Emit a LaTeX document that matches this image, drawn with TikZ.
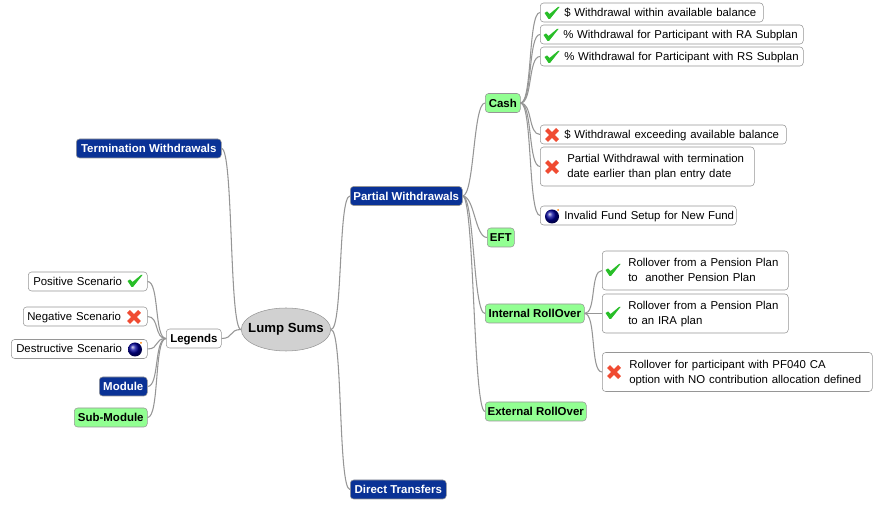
\documentclass[tikz,border=0pt]{standalone}
\usepackage{xcolor}
\usepackage{fontspec}
\setmainfont{Liberation Sans}
\usetikzlibrary{shapes.geometric}
\definecolor{modblue}{RGB}{10,50,150}
\definecolor{subgreen}{RGB}{146,255,146}
\definecolor{rimgray}{RGB}{150,150,150}
\definecolor{okgreen}{RGB}{40,190,40}
\definecolor{nored}{RGB}{240,75,50}
\newcommand{\ind}[1]{\hspace*{\dimexpr#1*3/4\relax}}
\tikzset{
    tag/.style={draw=rimgray, rounded corners=2.5pt, inner sep=0pt, anchor=west, minimum height=#1*0.75pt},
    tag/.default=19,
    module/.style={tag, fill=modblue, text=white, font=\fontsize{8.6}{10}\selectfont\bfseries, align=center},
    submodule/.style={tag, fill=subgreen, font=\fontsize{8.6}{10}\selectfont\bfseries, align=center},
    item/.style={draw=rimgray, rounded corners=2.5pt, inner sep=0pt, anchor=west, fill=white, font=\fontsize{8.55}{11.25}\selectfont, align=left, text width=#1*0.75pt, text depth=0.6pt, minimum height=14.25pt},
    tallitem/.style={item=#1, text depth=11.75pt, minimum height=29.25pt},
    link/.style={draw=rimgray, line width=0.8pt, out=0, in=180, distance=9pt},
    backlink/.style={draw=rimgray, line width=0.8pt, out=180, in=0, distance=9pt},
    okmark/.pic={\fill[okgreen] (-7.5,0) -- (-5,-1.5) -- (-2.5,1) -- (6,-6) -- (7.5,-6) -- (-2,6) -- (-3.5,6) -- cycle;},
    nomark/.pic={\draw[nored, line width=3pt] (-5.5,-5.5) -- (5.5,5.5) (5.5,-5.5) -- (-5.5,5.5);},
    bombmark/.pic={\shade[ball color=blue!60!black] (0,0.5) circle (7); \fill[orange] (6,-6) circle (1);}
}
\begin{document}
\begin{tikzpicture}[x=0.75pt, y=-0.75pt]
    \useasboundingbox (0,0) rectangle (875,505);

    \node[ellipse, draw=rimgray, fill=black!18, inner xsep=-4.6pt, inner ysep=0pt, minimum width=66.75pt, minimum height=32.25pt, font=\fontsize{9.9}{12}\selectfont\bfseries] (lump) at (286,329.5) {Lump Sums};

    \node[module, minimum width=84pt] (partial) at (350,196) {Partial Withdrawals};
    \node[module, minimum width=108.75pt] (termination) at (76,148.5) {Termination Withdrawals};
    \node[module, minimum width=72pt] (transfers) at (350,489.5) {Direct Transfers};

    \node[submodule, minimum width=26.25pt] (cash) at (485,103) {Cash};
    \node[submodule, minimum width=20.25pt] (eft) at (487,237.5) {EFT};
    \node[submodule, minimum width=74.25pt] (internal) at (485,313.5) {Internal RollOver};
    \node[submodule, minimum width=75.75pt] (external) at (485,411.5) {External RollOver};

    \node[item=223] (cashA) at (540,12.5) {\ind{24pt}\$ Withdrawal within available balance};
    \node[item=263] (cashB) at (540,34.5) {\ind{23pt}\% Withdrawal for Participant with RA Subplan};
    \node[item=263] (cashC) at (540,56.5) {\ind{24pt}\% Withdrawal for Participant with RS Subplan};
    \node[item=246] (cashD) at (540,134.5) {\ind{24pt}\$ Withdrawal exceeding available balance};
    \node[tallitem=214] (cashE) at (540,166.5) {\ind{27pt}Partial Withdrawal with termination\\\ind{27pt}date earlier than plan entry date};
    \node[item=196] (cashF) at (540,215.5) {\ind{24pt}Invalid Fund Setup for New Fund};

    \node[tallitem=186] (rollA) at (602,270.5) {\ind{26pt}Rollover from a Pension Plan\\\ind{26pt}to\ \ another Pension Plan};
    \node[tallitem=186] (rollB) at (602,313.5) {\ind{26pt}Rollover from a Pension Plan\\\ind{26pt}to an IRA plan};
    \node[tallitem=270] (rollC) at (602,372) {\ind{27pt}Rollover for participant with PF040 CA\\\ind{27pt}option with NO contribution allocation defined};

    \node[item=55, font=\fontsize{8.6}{10}\selectfont\bfseries] (legends) at (166,338.5) {\ind{4pt}Legends};
    \node[item=119] (positive) at (28,281.5) {\ind{5pt}Positive Scenario};
    \node[item=124] (negative) at (23,316.5) {\ind{4pt}Negative Scenario};
    \node[item=136] (destructive) at (11,349) {\ind{5pt}Destructive Scenario};
    \node[module, minimum width=36pt] (module) at (99,386.5) {Module};
    \node[submodule, minimum width=54.75pt] (submodule) at (74,417.5) {Sub-Module};

    \foreach \from/\to in {lump/partial, lump/transfers, partial/cash, partial/eft, partial/internal, partial/external, cash/cashA, cash/cashB, cash/cashC, cash/cashD, cash/cashE, cash/cashF, internal/rollA, internal/rollB, internal/rollC}
        \draw[link] (\from.east) to (\to.west);
    \foreach \from/\to in {lump/termination, lump/legends, legends/positive, legends/negative, legends/destructive, legends/module, legends/submodule}
        \draw[backlink] (\from.west) to (\to.east);

    \pic at (552,13) {okmark};
    \pic at (551,35) {okmark};
    \pic at (552,57) {okmark};
    \pic at (552,135) {nomark};
    \pic at (552,167) {nomark};
    \pic at (552,216) {bombmark};
    \pic at (613,270) {okmark};
    \pic at (613,313) {okmark};
    \pic at (614,372) {nomark};
    \pic at (135,281) {okmark};
    \pic at (134,317) {nomark};
    \pic at (135,349) {bombmark};
\end{tikzpicture}
\end{document}
